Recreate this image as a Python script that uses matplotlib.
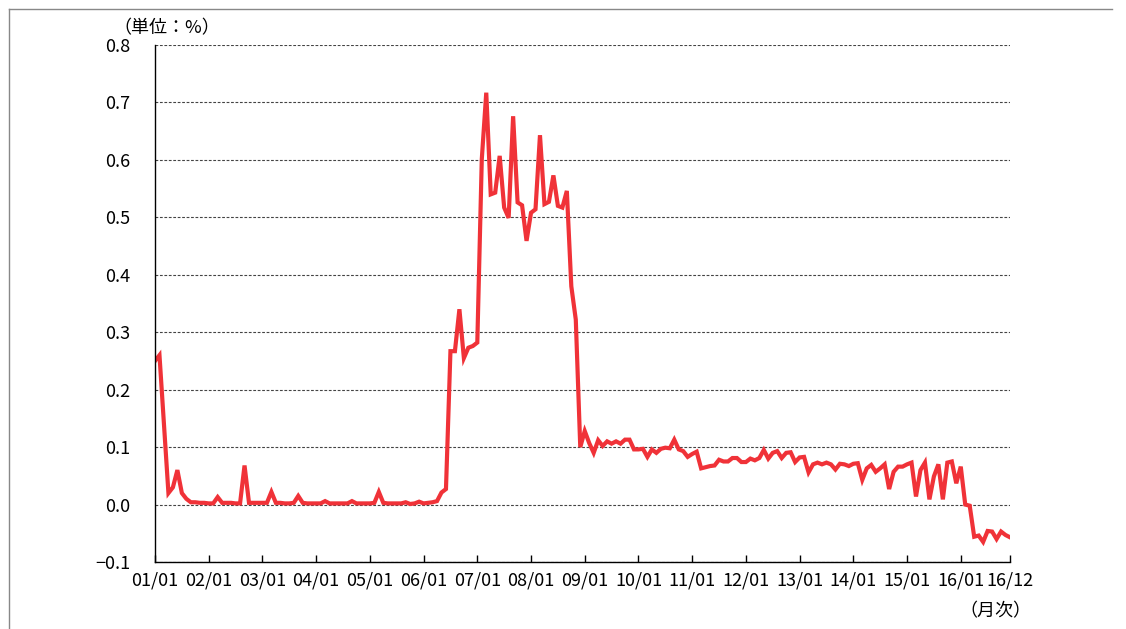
import matplotlib
matplotlib.use("Agg")
import matplotlib.pyplot as plt
from matplotlib.lines import Line2D
from matplotlib.ticker import FixedLocator, FuncFormatter

plt.rcParams['font.family'] = ['Noto Sans CJK JP', 'DejaVu Sans']

# monthly values, 2001/01 .. 2016/12 (unit: %)
y2001 = [0.25, 0.26, 0.14, 0.02, 0.03, 0.06, 0.02, 0.01, 0.004, 0.004, 0.003, 0.003]
y2002 = [0.002, 0.002, 0.013, 0.003, 0.003, 0.003, 0.002, 0.002, 0.068, 0.003, 0.003, 0.003]
y2003 = [0.003, 0.003, 0.022, 0.003, 0.003, 0.002, 0.002, 0.003, 0.015, 0.003, 0.002, 0.002]
y2004 = [0.002, 0.002, 0.006, 0.002, 0.002, 0.002, 0.002, 0.002, 0.006, 0.002, 0.002, 0.002]
y2005 = [0.002, 0.003, 0.022, 0.003, 0.002, 0.002, 0.002, 0.002, 0.004, 0.001, 0.002, 0.005]
y2006 = [0.002, 0.003, 0.004, 0.006, 0.021, 0.027, 0.267, 0.267, 0.34, 0.255, 0.273, 0.276]
y2007 = [0.282, 0.601, 0.717, 0.54, 0.543, 0.607, 0.517, 0.499, 0.676, 0.526, 0.521, 0.459]
y2008 = [0.508, 0.514, 0.643, 0.523, 0.527, 0.573, 0.52, 0.517, 0.546, 0.38, 0.322, 0.10]
y2009 = [0.128, 0.107, 0.09, 0.112, 0.102, 0.11, 0.106, 0.11, 0.106, 0.113, 0.113, 0.096]
y2010 = [0.096, 0.097, 0.083, 0.096, 0.09, 0.097, 0.099, 0.098, 0.113, 0.096, 0.093, 0.083]
y2011 = [0.088, 0.092, 0.063, 0.065, 0.067, 0.068, 0.078, 0.075, 0.075, 0.081, 0.081, 0.074]
y2012 = [0.074, 0.08, 0.077, 0.081, 0.095, 0.08, 0.09, 0.093, 0.081, 0.09, 0.091, 0.074]
y2013 = [0.082, 0.083, 0.056, 0.07, 0.073, 0.07, 0.073, 0.07, 0.061, 0.071, 0.07, 0.067]
y2014 = [0.071, 0.072, 0.043, 0.063, 0.069, 0.057, 0.063, 0.07, 0.027, 0.057, 0.066, 0.066]
y2015 = [0.07, 0.073, 0.014, 0.06, 0.073, 0.009, 0.049, 0.07, 0.009, 0.073, 0.075, 0.037]
y2016 = [0.066, 0.0, -0.002, -0.056, -0.054, -0.065, -0.046, -0.047, -0.06, -0.047, -0.053, -0.057]

values = (y2001 + y2002 + y2003 + y2004 + y2005 + y2006 + y2007 + y2008
          + y2009 + y2010 + y2011 + y2012 + y2013 + y2014 + y2015 + y2016)
months = list(range(len(values)))

xtick_pos = list(range(0, 181, 12)) + [191]
xtick_labels = ["%02d/01" % y for y in range(1, 17)] + ["16/12"]
yticks = [-0.1, 0.0, 0.1, 0.2, 0.3, 0.4, 0.5, 0.6, 0.7, 0.8]

fig = plt.figure(figsize=(11.26, 6.29), dpi=100)
ax = fig.add_axes([155 / 1126, 1 - 562 / 629, 855 / 1126, 517 / 629])

ax.plot(months, values, color="#f03238", linewidth=3.0, solid_joinstyle="miter")

ax.set_xlim(0, 191)
ax.set_ylim(-0.1, 0.8)
ax.yaxis.set_major_locator(FixedLocator(yticks))
ax.yaxis.set_major_formatter(FuncFormatter(lambda v, p: ("%.1f" % v).replace("-", "\u2212")))
ax.set_xticks(xtick_pos)
ax.set_xticklabels(xtick_labels)

ax.grid(axis="y", color="#444444", linestyle=(0, (2.5, 1.5)), linewidth=0.8)
ax.set_axisbelow(True)
for side in ["top", "right"]:
    ax.spines[side].set_visible(False)
ax.spines["left"].set_linewidth(1.0)
ax.spines["bottom"].set_linewidth(1.0)

ax.tick_params(axis="x", direction="in", length=5, width=1, pad=7, labelsize=13)
ax.tick_params(axis="y", length=0, pad=18, labelsize=13)

fig.text(167 / 1126, 1 - 28 / 629, "（単位：%）", ha="center", va="center", fontsize=13)
fig.text(995 / 1126, 1 - 611 / 629, "（月次）", ha="center", va="center", fontsize=13)

# frame around the chart area (left and top edges visible)
fig.add_artist(Line2D([8.5 / 1126, 8.5 / 1126], [0, 1 - 8.5 / 629], color="#888888", linewidth=1))
fig.add_artist(Line2D([8.5 / 1126, 1112 / 1126], [1 - 8.5 / 629, 1 - 8.5 / 629], color="#888888", linewidth=1))

fig.savefig("out.png", dpi=100)
